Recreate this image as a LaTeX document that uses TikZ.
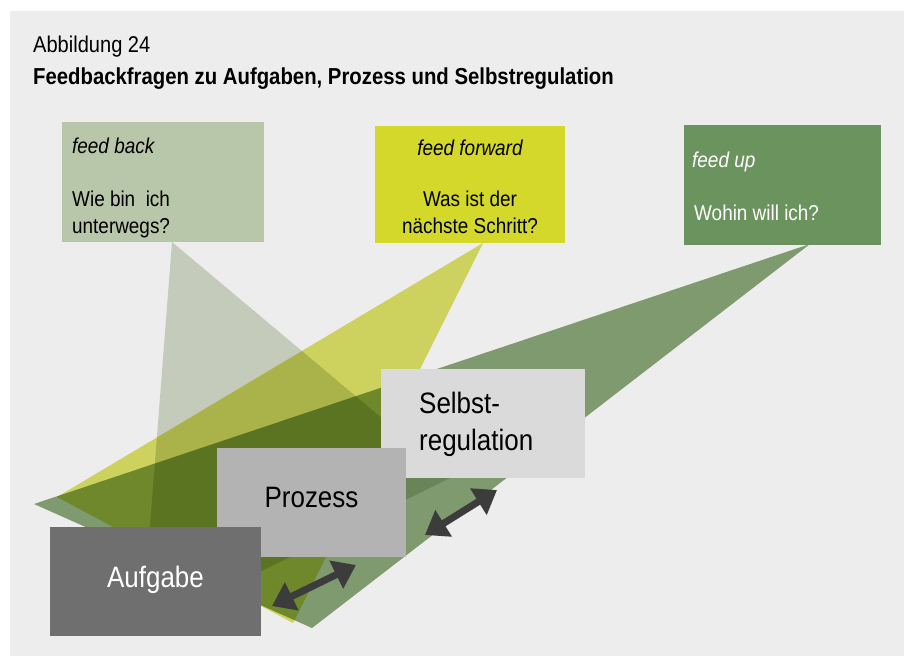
\documentclass[tikz,border=0pt]{standalone}
\usepackage{fontspec}
\setmainfont{Liberation Sans}[FakeStretch=0.88]
\usetikzlibrary{arrows.meta}
\definecolor{bgc}{HTML}{EDEDED}
\definecolor{fbcol}{HTML}{B8C6AA}
\definecolor{ffcol}{HTML}{D4D82A}
\definecolor{fucol}{HTML}{6A935E}
\definecolor{aufcol}{HTML}{6F6F6F}
\definecolor{procol}{HTML}{B3B3B3}
\definecolor{selcol}{HTML}{DADADA}
\definecolor{tripale}{HTML}{D4DBCA}
\definecolor{triyel}{HTML}{DDE166}
\definecolor{trigrn}{HTML}{89A677}
\definecolor{arrcol}{HTML}{3C3C3C}
\begin{document}
\begin{tikzpicture}[x=1pt,y=-1pt,
  box/.style={draw=none,inner sep=0pt,anchor=north west},
  txt/.style={inner sep=0pt,anchor=base west,font=\fontsize{21.5}{25}\selectfont},
  txtc/.style={inner sep=0pt,anchor=base,font=\fontsize{21.5}{25}\selectfont},
  big/.style={inner sep=0pt,font=\fontsize{29.5}{33}\selectfont},
  dbl/.style={arrcol,line width=7pt,{Triangle[length=22pt,width=30pt]}-{Triangle[length=22pt,width=30pt]}}
]
\useasboundingbox (0,0) rectangle (904,656);
\fill[bgc] (10,11) rectangle (904,656);

% titles
\node[inner sep=0pt,anchor=base west,font=\fontsize{22.8}{26}\selectfont] (t1) at (33,52) {Abbildung 24};
\node[inner sep=0pt,anchor=base west,font=\fontsize{23.1}{26}\selectfont\bfseries] (t2) at (33,84) {Feedbackfragen zu Aufgaben, Prozess und Selbstregulation};

% light rays
\begin{scope}[blend mode=multiply]
  \fill[tripale] (172,242) -- (142,630) -- (452,477) -- cycle;
  \fill[triyel] (483,243) -- (57,497) -- (293,623) -- cycle;
  \fill[trigrn] (810,244) -- (34,504) -- (312,628) -- cycle;
\end{scope}

% top boxes
\node[box,fill=fbcol,minimum width=202pt,minimum height=120pt] (fb) at (62,122) {};
\node[box,fill=ffcol,minimum width=190pt,minimum height=117pt] (ff) at (375,126) {};
\node[box,fill=fucol,minimum width=197pt,minimum height=120pt] (fu) at (684,125) {};

\node[txt] (fb1) at (72,153) {\itshape feed back};
\node[txt] (fb2) at (72,206) {Wie bin\ \ ich};
\node[txt] (fb3) at (72,233) {unterwegs?};

\node[txtc] (ff1) at (470,155) {\itshape feed forward};
\node[txtc] (ff2) at (470,206) {Was ist der};
\node[txtc] (ff3) at (470,233) {nächste Schritt?};

\node[txt,white] (fu1) at (692,167) {\itshape feed up};
\node[txt,white] (fu2) at (694,220) {Wohin will ich?};

% bottom boxes
\node[box,fill=selcol,minimum width=204pt,minimum height=109pt] (sel) at (381,369) {};
\node[box,fill=procol,minimum width=189pt,minimum height=109pt] (pro) at (217,448) {};
\node[box,fill=aufcol,minimum width=211pt,minimum height=109pt] (auf) at (50,527) {};

\node[big,anchor=base west] (sel1) at (419,413) {Selbst-};
\node[big,anchor=base west] (sel2) at (419,450) {regulation};
\node[big,anchor=base] (pro1) at (311.5,507) {Prozess};
\node[big,anchor=base,white] (auf1) at (155.5,587) {Aufgabe};

% arrows
\coordinate (a1s) at (272,606);
\coordinate (a1e) at (356,565);
\coordinate (a2s) at (425,535);
\coordinate (a2e) at (497,490);
\draw[dbl] (a1s) -- (a1e);
\draw[dbl] (a2s) -- (a2e);
\end{tikzpicture}
\end{document}
